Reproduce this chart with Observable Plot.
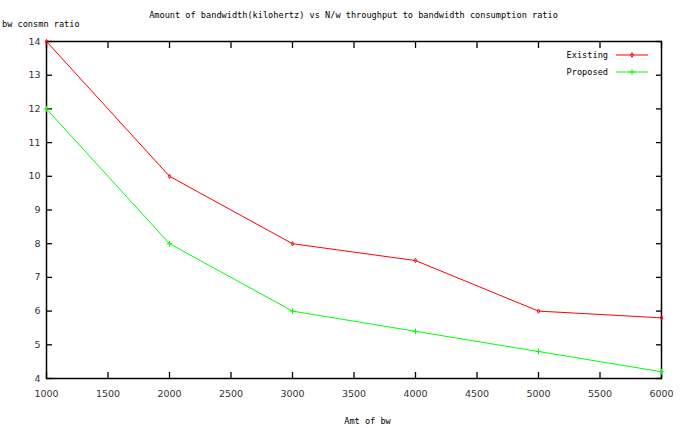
<!DOCTYPE html>
<html>
<head>
<meta charset="utf-8">
<script src="https://cdn.jsdelivr.net/npm/d3@7"></script>
<script src="https://cdn.jsdelivr.net/npm/@observablehq/plot@0.6"></script>
<style>
  html, body { margin: 0; padding: 0; background: #fff; }
  #chart { width: 684px; height: 428px; }
</style>
</head>
<body>
<div id="chart"></div>
<script>
const bandwidth = [1000, 2000, 3000, 4000, 5000, 6000];
const existing = [14, 10, 8, 7.5, 6, 5.8];
const proposed = [12, 8, 6, 5.4, 4.8, 4.2];
const xTicks = [1000, 1500, 2000, 2500, 3000, 3500, 4000, 4500, 5000, 5500, 6000];
const yTicks = [4, 5, 6, 7, 8, 9, 10, 11, 12, 13, 14];
const seriesNames = ["Existing", "Proposed"];
const seriesColors = ["#ff0000", "#00ff00"];
const titleText = "Amount of bandwidth(kilohertz) vs N/w throughput to bandwidth consumption ratio";
const xLabel = "Amt of bw";
const yLabel = "bw consmn ratio";

const rows = [];
bandwidth.forEach((b, i) => {
  rows.push({bw: b, v: existing[i], s: seriesNames[0]});
  rows.push({bw: b, v: proposed[i], s: seriesNames[1]});
});

const W = 684, H = 428;
const mLeft = 46, mRight = 23, mTop = 41, mBottom = 50;
const mono = "'DejaVu Sans Mono', monospace";

const plot = Plot.plot({
  width: W,
  height: H,
  marginLeft: mLeft,
  marginRight: mRight,
  marginTop: mTop,
  marginBottom: mBottom,
  style: {fontFamily: "'DejaVu Sans', sans-serif", fontSize: "9.5px", background: "#fff", color: "#000"},
  x: {domain: [1000, 6000]},
  y: {domain: [4, 14]},
  color: {domain: seriesNames, range: seriesColors},
  marks: [
    Plot.axisX({ticks: xTicks, tickSize: 0, tickPadding: 12, tickFormat: d => String(d), label: null, fill: "#333"}),
    Plot.axisX({ticks: xTicks, tickSize: -6, text: null, label: null, strokeWidth: 1.3}),
    Plot.axisX({anchor: "top", ticks: xTicks, tickSize: -6, text: null, label: null, strokeWidth: 1.3}),
    Plot.axisY({ticks: yTicks, tickSize: 0, tickPadding: 6, tickFormat: d => String(d), label: null, fill: "#333"}),
    Plot.axisY({ticks: yTicks, tickSize: -6, text: null, label: null, strokeWidth: 1.3}),
    Plot.axisY({anchor: "right", ticks: yTicks, tickSize: -6, text: null, label: null, strokeWidth: 1.3}),
    Plot.frame({stroke: "#000", strokeWidth: 1.5}),
    Plot.line(rows, {x: "bw", y: "v", z: "s", stroke: "s", strokeWidth: 1}),
    Plot.dot(rows.filter(d => d.s === seriesNames[0]), {x: "bw", y: "v", stroke: "s", symbol: "diamond", r: 1.3, strokeWidth: 1}),
    Plot.dot(rows.filter(d => d.s === seriesNames[1]), {x: "bw", y: "v", stroke: "s", symbol: "plus", r: 2, strokeWidth: 1})
  ]
});

document.getElementById("chart").appendChild(plot);

const svg = d3.select(plot);
svg.append("text")
  .attr("x", (mLeft + W - mRight) / 2)
  .attr("y", 18)
  .attr("text-anchor", "middle")
  .attr("font-family", mono)
  .attr("font-size", "8.6px")
  .attr("fill", "#000")
  .text(titleText);
svg.append("text")
  .attr("x", 2)
  .attr("y", 27)
  .attr("text-anchor", "start")
  .attr("font-family", mono)
  .attr("font-size", "8.6px")
  .attr("fill", "#000")
  .text(yLabel);
svg.append("text")
  .attr("x", (mLeft + W - mRight) / 2 + 14)
  .attr("y", 424)
  .attr("text-anchor", "middle")
  .attr("font-family", mono)
  .attr("font-size", "8.6px")
  .attr("fill", "#000")
  .text(xLabel);

// legend (inside the plot frame, top right)
const legendSymbols = [d3.symbolDiamond, d3.symbolPlus];
seriesNames.forEach((name, i) => {
  const y = 55 + i * 17;
  const g = svg.append("g");
  g.append("text")
    .attr("x", 608).attr("y", y).attr("dy", "0.35em")
    .attr("text-anchor", "end")
    .attr("font-family", mono).attr("font-size", "8.6px").attr("fill", "#000")
    .text(name);
  g.append("line")
    .attr("x1", 616).attr("x2", 648).attr("y1", y).attr("y2", y)
    .attr("stroke", seriesColors[i]).attr("stroke-width", 1);
  g.append("path")
    .attr("transform", `translate(632,${y})`)
    .attr("d", d3.symbol(legendSymbols[i], i === 0 ? 6 : 14)())
    .attr("fill", "none")
    .attr("stroke", seriesColors[i]).attr("stroke-width", 1);
});
</script>
</body>
</html>
